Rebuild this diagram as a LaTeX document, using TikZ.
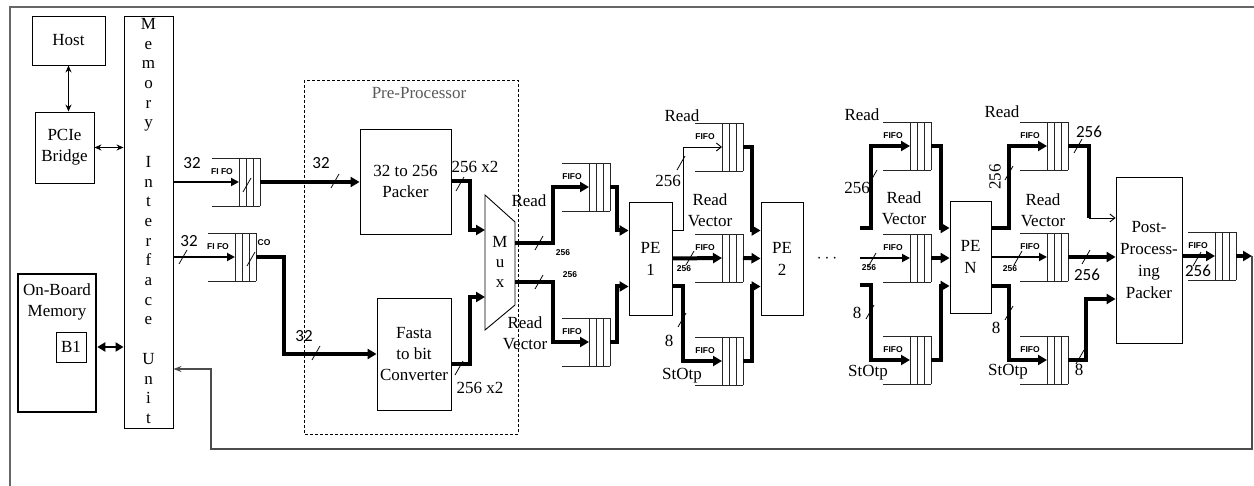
\documentclass[tikz,border=0pt]{standalone}
\usepackage{fontspec}
\setmainfont{Liberation Serif}
\newfontfamily\numfont{Carlito}
\newfontfamily\fifofont{Liberation Sans}
\usetikzlibrary{arrows.meta,calc,positioning}

\begin{document}
\begin{tikzpicture}[x=1pt, y=-1pt,
	every node/.style={font=\fontsize{17}{21}\selectfont, inner sep=0pt},
	box/.style={draw, line width=0.9pt, align=center},
	fifo/.style={line width=0.9pt, black!85},
	bus/.style={line width=4pt, -{Triangle[length=9pt,width=10pt]}},
	busline/.style={line width=4pt},
	med/.style={line width=1.8pt, -{Triangle[length=8pt,width=8pt]}},
	wire/.style={line width=0.9pt, -{Straight Barb[length=5pt,width=8pt]}},
	slash/.style={line width=0.8pt},
	fifolbl/.style={font=\fifofont\bfseries\fontsize{8.5}{9}\selectfont},
	wlbl/.style={font=\numfont\fontsize{17}{19}\selectfont}]
	\useasboundingbox (0,0) rectangle (1254,486);
	\draw[line width=2pt, black!60] (10,486) -- (10,7) -- (1254,7);
	
	% host side
	\node[box, minimum width=73, minimum height=49] (host) at (68.5,40.5) {Host};
	\node[box, minimum width=59, minimum height=71] (pcie) at (64.5,147.5) {PCIe\\Bridge};
	\node[box, minimum width=49, minimum height=412] (miu) at (148.5,222) {};
	\node[align=center, font=\fontsize{17}{19.7}\selectfont] (miutxt) at (148.5,221)
		{M\\e\\m\\o\\r\\y\\[19.7pt]I\\n\\t\\e\\r\\f\\a\\c\\e\\[19.7pt]U\\n\\i\\t};
	\node[box, line width=2.5pt, minimum width=78, minimum height=138] (obm) at (57,343) {};
	\node[align=center] (obmtxt) at (57,302) {On-Board\\Memory};
	\node[box, minimum width=30, minimum height=30] (b1) at (71,347) {B1};
	
	% pre-processor
	\draw[line width=0.9pt, dash pattern=on 3pt off 2pt] (304,80) rectangle (518,434);
	\node[text=black!65] (pretxt) at (419,93) {Pre-Processor};
	\node[box, minimum width=91, minimum height=105] (packer) at (405.5,181.5) {32 to 256\\Packer};
	\node[box, minimum width=74, minimum height=112] (fasta) at (414,354) {Fasta\\to bit\\Converter};
	\draw[line width=0.9pt] (485,195) -- (515,222) -- (515,305) -- (485,330) -- cycle;
	\node[align=center, font=\fontsize{17}{20}\selectfont] (mux) at (500,262) {M\\u\\x};
	\coordinate (muxa) at (485,230);
	\coordinate (muxb) at (485,297);
	\coordinate (muxc) at (515,243);
	\coordinate (muxd) at (515,282);
	
	% processing elements
	\node[box, minimum width=43, minimum height=113, font=\fontsize{17}{22}\selectfont] (pe1) at (650.5,258.5) {PE\\1};
	\node[box, minimum width=42, minimum height=113, font=\fontsize{17}{22}\selectfont] (pe2) at (782,258.5) {PE\\2};
	\node[box, minimum width=41, minimum height=112, font=\fontsize{17}{22}\selectfont] (pen) at (970.5,257) {PE\\N};
	\node[box, minimum width=66, minimum height=166, font=\fontsize{17}{21.7}\selectfont] (post) at (1149,260)
		{Post-\\Process-\\ing\\Packer};
	\node (dots) at (827,259) {$\cdots$};
	
	% fifos
	\foreach \n/\x/\y/\t in {a/212/182/FI FO, b/208/257/FI FO, c/562/187/FIFO, d/562/342/FIFO,
		e/695/147/FIFO, f/695/258/FIFO, g/695/361/FIFO, h/883/146/FIFO, i/883/258/FIFO,
		j/883/360/FIFO, k/1020/146/FIFO, l/1020/257/FIFO, m/1020/360/FIFO, n/1188/256/FIFO} {
		\draw[fifo] (\x,\y-24) -- ++(48,0) (\x,\y+24) -- ++(48,0);
		\foreach \v in {27,34,41,48}
			\draw[fifo] (\x+\v,\y-24) -- ++(0,48);
		\coordinate (in\n) at (\x+27,\y);
		\coordinate (out\n) at (\x+48,\y);
		\node[fifolbl] (lbl\n) at (\x+10,\y-10) {\t};
	}
	\node[fifolbl] (co) at (264,243) {CO};
	
	% connections
	\draw[line width=0.9pt, {Stealth[length=7pt,width=6pt]}-{Stealth[length=7pt,width=6pt]}] (host.south) -- (host.south |- pcie.north);
	\draw[line width=0.9pt, {Stealth[length=7pt,width=6pt]}-{Stealth[length=7pt,width=6pt]}] (pcie.east) -- (pcie.east -| miu.west);
	\draw[line width=2.5pt, {Triangle[length=8pt,width=9pt]}-{Triangle[length=8pt,width=9pt]}] (obm.east |- b1) -- (b1 -| miu.west);
	\draw[med] (miu.east |- ina) -- (ina);
	\draw[med] (miu.east |- inb) -- (inb);
	\draw[bus] (outa) -- (outa -| packer.west);
	\draw[bus] (outb) -- ++(28,0) |- (fasta.west);
	\draw[bus] (packer.east) -- ++(19,0) |- (muxa);
	\draw[bus] ($(fasta.east)+(0,10)$) -- ++(19,0) |- (muxb);
	\draw[bus] (muxc) -- ++(38,0) |- (inc);
	\draw[bus] (muxd) -- ++(38,0) |- (ind);
	\draw[bus] (outc) -- ++(7,0) |- ($(pe1.west)+(0,-28)$);
	\draw[bus] (outd) -- ++(7,0) |- ($(pe1.west)+(0,28)$);
	\draw[wire] ($(pe1.east)+(0,-28)$) -- ++(11,0) |- (ine);
	\draw[bus] (pe1.east) -- (inf);
	\draw[bus] ($(pe1.east)+(0,28)$) -- ++(11,0) |- (ing);
	\draw[bus] (oute) -- ++(9,0) |- ($(pe2.west)+(0,-28)$);
	\draw[bus] (outf) -- (pe2.west);
	\draw[bus] (outg) -- ++(9,0) |- ($(pe2.west)+(0,28)$);
	\coordinate (fromh) at (860,228);
	\coordinate (fromi) at (860,258);
	\coordinate (fromj) at (860,285);
	\draw[bus] (fromh) -- ++(11,0) |- (inh);
	\draw[med] (fromi) -- (ini);
	\draw[bus] (fromj) -- ++(11,0) |- (inj);
	\draw[bus] (outh) -- ++(10,0) |- ($(pen.west)+(0,-29)$);
	\draw[bus] (outi) -- (outi -| pen.west);
	\draw[bus] (outj) -- ++(10,0) |- ($(pen.west)+(0,29)$);
	\draw[bus] ($(pen.east)+(0,-29)$) -- ++(18,0) |- (ink);
	\draw[med] (pen.east) -- (inl);
	\draw[bus] ($(pen.east)+(0,29)$) -- ++(18,0) |- (inm);
	\coordinate (posta) at (1089,218);
	\draw[busline] (outk) -| (posta);
	\draw[wire] (posta) -- (posta -| post.west);
	\draw[bus] (outl) -- (outl -| post.west);
	\draw[bus] (outm) -- ++(18,0) |- ($(post.west)+(0,39)$);
	\draw[bus] (post.east |- inn) -- (inn);
	\coordinate (outp) at (1252,256);
	\draw[bus] (outn) -- (outp);
	\coordinate (fb) at (211,449);
	\draw[line width=1.3pt, black!70, -{Stealth[length=8pt,width=6pt]}] (outp) |- (fb) |- ($(miu.east)+(0,147)$);
	
	% bus width ticks
	\foreach \p in {(183,257), (247,185), (251,259), (335,181), (316,353), (460,184), (459,368),
		(539,243), (539,282), (681,163), (690,258), (682,320), (873,177), (872,260), (870,312),
		(1009,173), (1018,258), (1009,313), (1078,146), (1086,257), (1080,357), (1197,259)}
		\draw[slash] \p +(-4,7) -- +(4,-7);
	
	% labels
	\node[wlbl] (w1) at (192,163) {32};
	\node[wlbl] (w2) at (189,241) {32};
	\node[wlbl] (w3) at (321,163) {32};
	\node[wlbl] (w4) at (304,336) {32};
	\node (w5) at (475,167) {256 x2};
	\node (w6) at (480,388) {256 x2};
	\node (rd1) at (529,201) {Read};
	\node[align=center] (rv1) at (525,333) {Read\\Vector};
	\node[fifolbl] (t1) at (563,253) {256};
	\node[fifolbl] (t2) at (570,275) {256};
	\node (rd2) at (682,116) {Read};
	\node (w7) at (668,181) {256};
	\node[align=center] (rv2) at (710,210) {Read\\Vector};
	\node[fifolbl] (t3) at (684,269) {256};
	\node (w8) at (669,341) {8};
	\node (so1) at (682,376) {StOtp};
	\node (rd3) at (862,115) {Read};
	\node (w9) at (857,188) {256};
	\node[align=center] (rv3) at (904,208) {Read\\Vector};
	\node[fifolbl] (t4) at (869,268) {256};
	\node (w10) at (857,313) {8};
	\node (so2) at (868,373) {StOtp};
	\node (rd4) at (1002,112) {Read};
	\node[rotate=90] (w11) at (995,177) {256};
	\node[align=center] (rv4) at (1043,210) {Read\\Vector};
	\node[fifolbl] (t5) at (1010,269) {256};
	\node (w12) at (996,328) {8};
	\node (so3) at (1008,372) {StOtp};
	\node[wlbl] (w13) at (1089,132) {256};
	\node[wlbl] (w14) at (1087,275) {256};
	\node (w15) at (1079,370) {8};
	\node[wlbl] (w16) at (1198,271) {256};
\end{tikzpicture}
\end{document}
